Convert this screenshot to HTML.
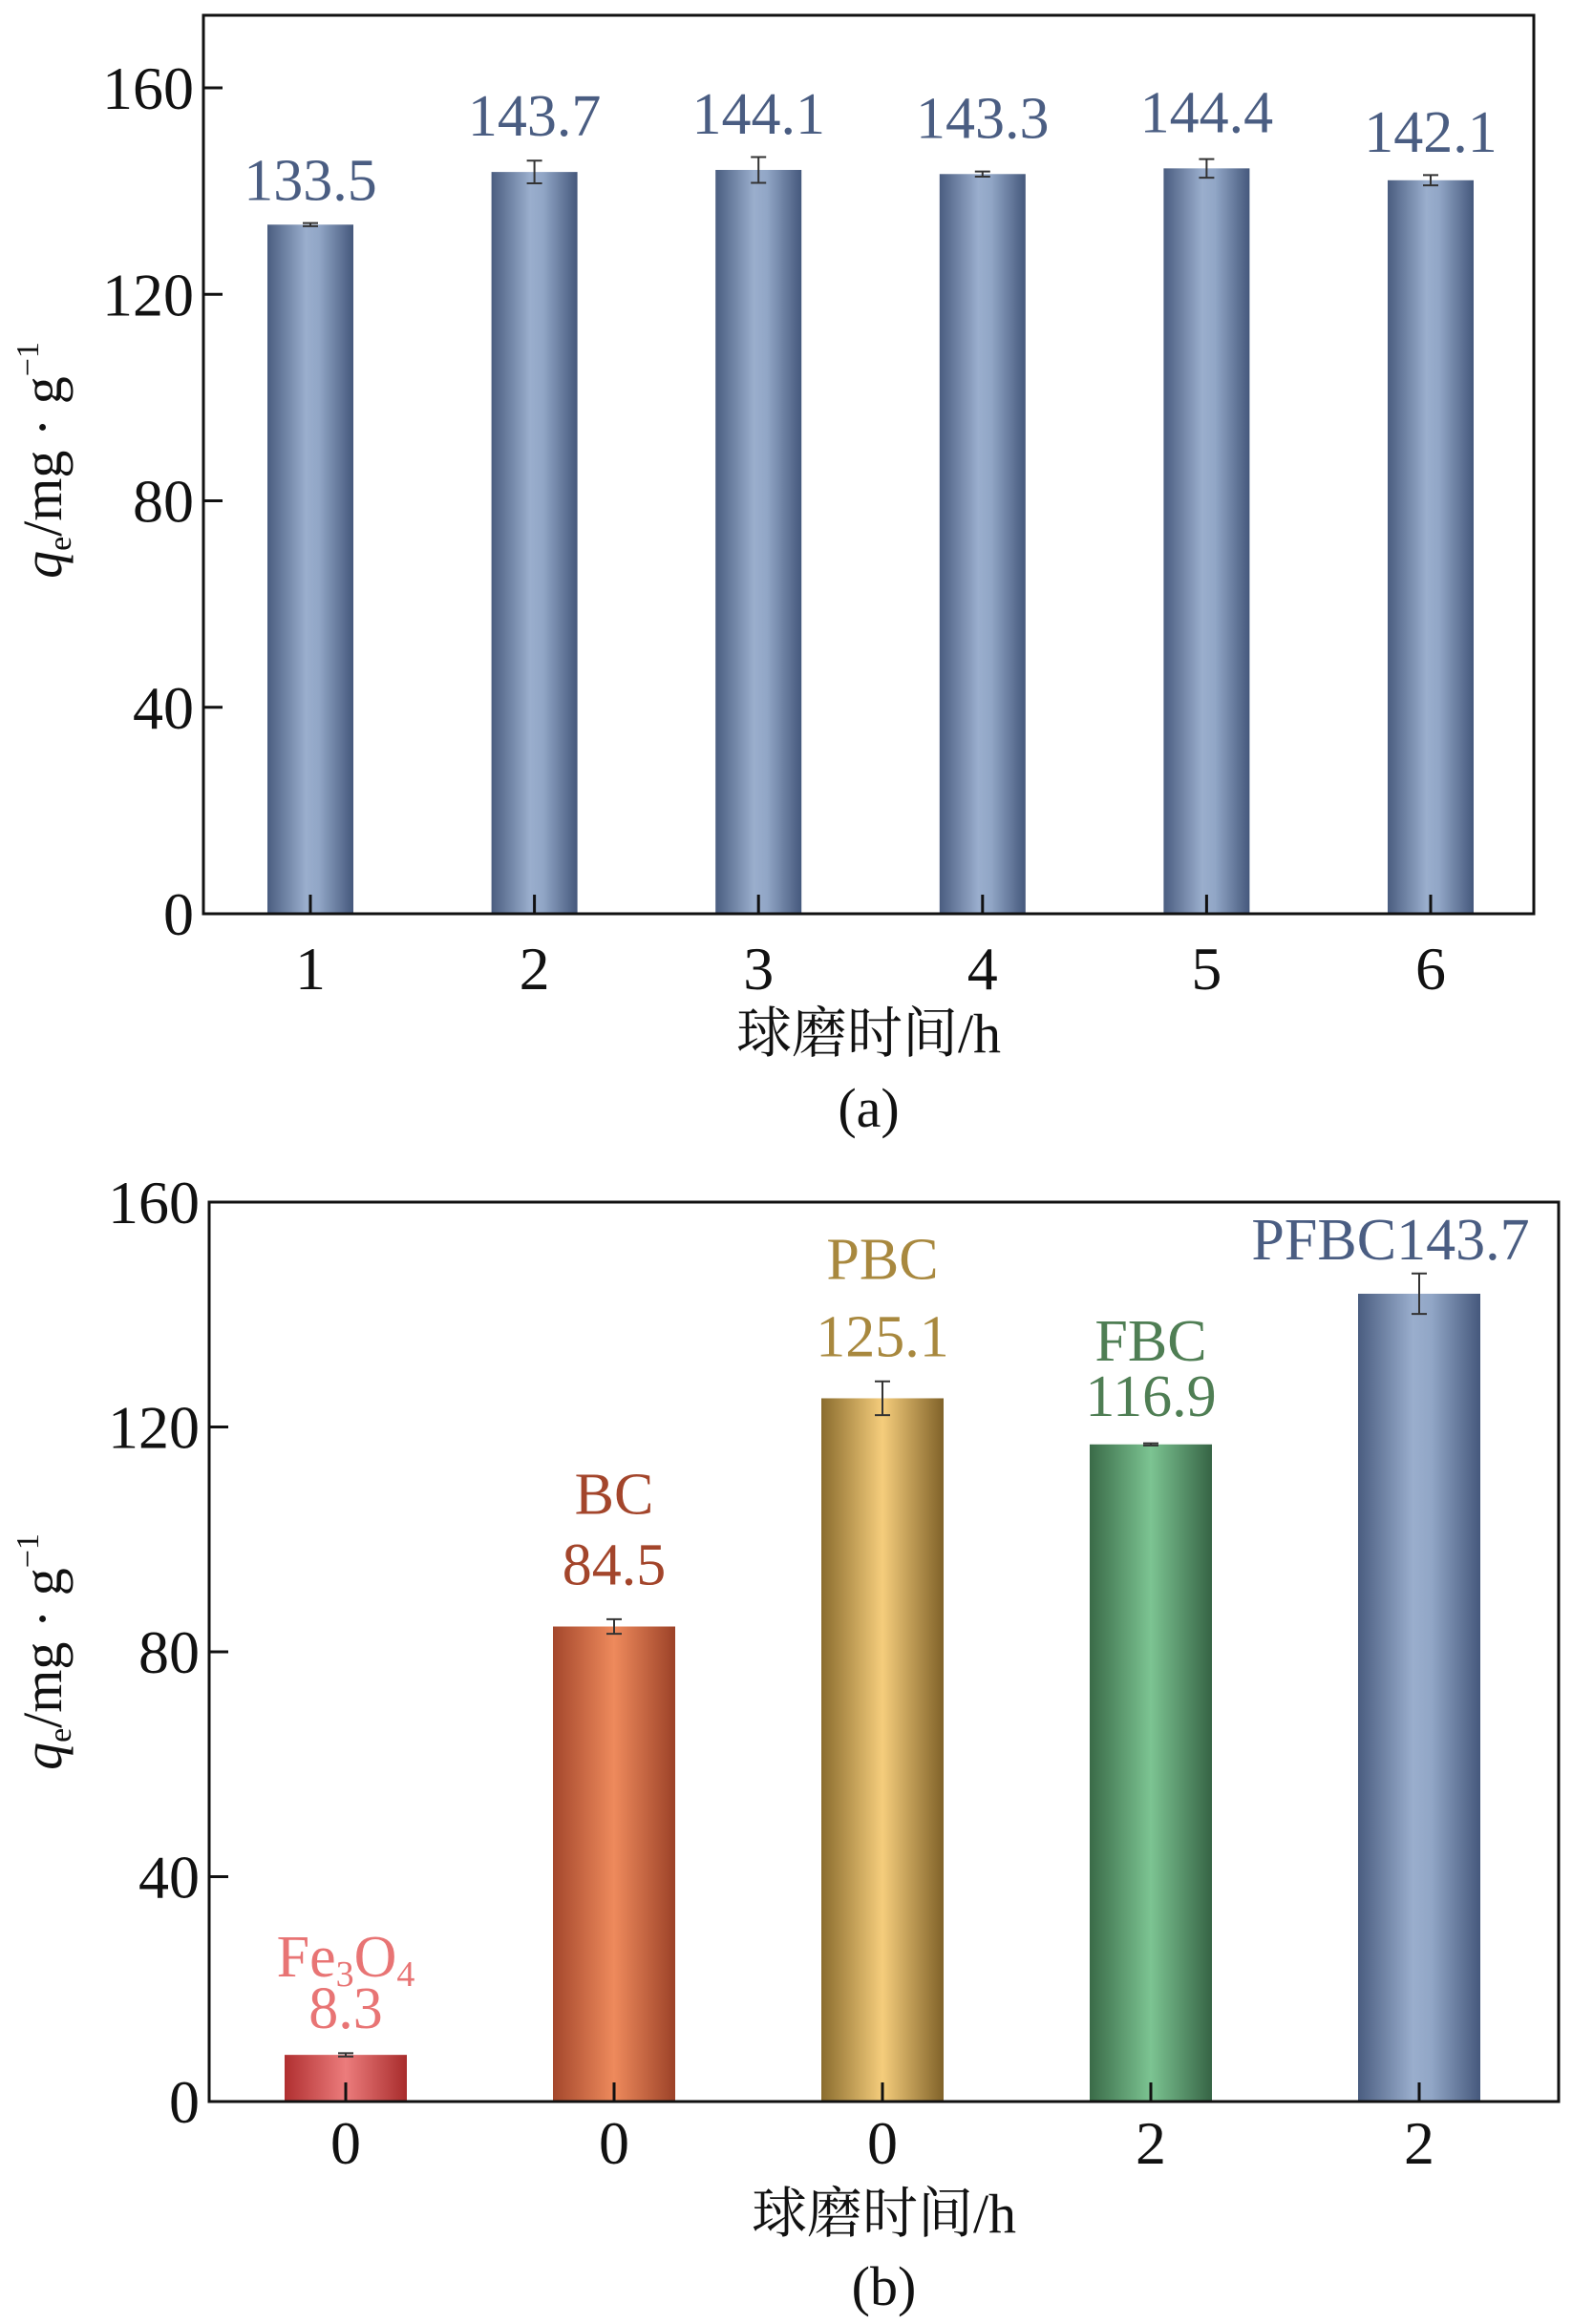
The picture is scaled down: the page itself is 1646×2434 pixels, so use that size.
<!DOCTYPE html>
<html><head><meta charset="utf-8">
<style>
body{margin:0;background:#fff;}
svg{display:block;}
text{font-family:"Liberation Serif","Noto Serif CJK SC","Noto Sans CJK SC",serif;}
</style></head>
<body>
<svg id="chart" width="1646" height="2434" viewBox="0 0 1646 2434" xmlns="http://www.w3.org/2000/svg">
<defs>
<linearGradient id="g-blue" x1="0" x2="1"><stop offset="0" stop-color="#4a5d80"/><stop offset="0.45" stop-color="#9aaecd"/><stop offset="0.6" stop-color="#91a6c6"/><stop offset="1" stop-color="#45587c"/></linearGradient>
<linearGradient id="g-red" x1="0" x2="1"><stop offset="0" stop-color="#b02f30"/><stop offset="0.5" stop-color="#ec7c7c"/><stop offset="1" stop-color="#a82c2c"/></linearGradient>
<linearGradient id="g-orange" x1="0" x2="1"><stop offset="0" stop-color="#a4472c"/><stop offset="0.5" stop-color="#ee8a5c"/><stop offset="1" stop-color="#9c4228"/></linearGradient>
<linearGradient id="g-gold" x1="0" x2="1"><stop offset="0" stop-color="#8a6c2e"/><stop offset="0.5" stop-color="#f5cd7c"/><stop offset="1" stop-color="#806229"/></linearGradient>
<linearGradient id="g-green" x1="0" x2="1"><stop offset="0" stop-color="#3a6b48"/><stop offset="0.5" stop-color="#7cc492"/><stop offset="1" stop-color="#366445"/></linearGradient>
</defs>
<g id="panel-a"></g>
<g id="panel-b"></g>
</svg>
<script>
const aCategories = ["1","2","3","4","5","6"];
const aValues = [133.5, 143.7, 144.1, 143.3, 144.4, 142.1];
const aErrors = [0.3, 2.2, 2.5, 0.5, 1.8, 1.0];
const aLabels = ["133.5","143.7","144.1","143.3","144.4","142.1"];
const bCategories = ["0","0","0","2","2"];
const bValues = [8.3, 84.5, 125.1, 116.9, 143.7];
const bErrors = [0.3, 1.3, 3.0, 0.2, 3.6];
const bLabels = ["8.3","84.5","125.1","116.9","PFBC143.7"];
const bNames = ["Fe3O4","BC","PBC","FBC",""];
const yTicks = [0, 40, 80, 120, 160];

const NS = "http://www.w3.org/2000/svg";
function mk(parent, tag, attrs, txt){
  const e = document.createElementNS(NS, tag);
  for (const k in attrs) e.setAttribute(k, attrs[k]);
  if (txt !== undefined) e.textContent = txt;
  parent.appendChild(e);
  return e;
}

function drawPanel(g, cfg){
  const {left,right,top,bottom,barW,cats,vals,errs,labels,fills,labelColors,names,nameColors,xTitleY,tickY,panelLabel,panelY,titleCy} = cfg;
  const y = v => bottom - v / 160 * (bottom - cfg.y160);
  const n = cats.length;
  const xc = i => cfg.x0 + i * cfg.step;
  for (let i = 0; i < n; i++){
    const r = mk(g, 'rect', {x: xc(i) - barW/2, y: y(vals[i]), width: barW, height: bottom - y(vals[i]), fill: fills[i]});
    
    
    const e = mk(g, 'path', {d: `M${xc(i)-8},${y(vals[i]+errs[i])}H${xc(i)+8}M${xc(i)},${y(vals[i]+errs[i])}V${y(vals[i]-errs[i])}M${xc(i)-8},${y(vals[i]-errs[i])}H${xc(i)+8}`, stroke:'#333', 'stroke-width':2, fill:'none'});
    
    
    const t = mk(g, 'text', {x: cfg.labelX ? cfg.labelX(i, xc(i)) : xc(i), y: y(vals[i]) - cfg.labelOff(i), 'text-anchor': 'middle', 'font-size': 62, fill: labelColors[i]}, labels[i]);
    
    
    if (names && names[i]){
      const nt = mk(g, 'text', {x: xc(i), y: y(vals[i]) - cfg.nameOff(i), 'text-anchor': 'middle', 'font-size': 62, fill: nameColors[i]});
      
      
      if (names[i] === 'Fe3O4'){
        nt.appendChild(document.createTextNode('Fe'));
        mk(nt, 'tspan', {'font-size': 38, dy: 10}, '3');
        mk(nt, 'tspan', {'font-size': 62, dy: -10}, 'O');
        mk(nt, 'tspan', {'font-size': 38, dy: 10}, '4');
      } else nt.textContent = names[i];
    }
    const tk = mk(g, 'line', {x1: xc(i), x2: xc(i), y1: bottom, y2: bottom - 20, stroke:'#111', 'stroke-width':3});
    
    
    const tl = mk(g, 'text', {x: xc(i), y: tickY, 'text-anchor':'middle', 'font-size': 64, fill:'#111'}, cats[i]);
    
    
  }
  for (const v of yTicks){
    const l = mk(g, 'line', {x1: left, x2: left + 20, y1: y(v), y2: y(v), stroke:'#111', 'stroke-width':3});
    
    
    const t = mk(g, 'text', {x: left - 10, y: y(v) + 22, 'text-anchor':'end', 'font-size': 64, fill:'#111'}, String(v));
    
    
  }
  const box = mk(g, 'rect', {x:left, y:top, width:right-left, height:bottom-top, fill:'none', stroke:'#111', 'stroke-width':3});
  
  
  const yt = mk(g, 'text', {transform:`translate(64,${titleCy}) rotate(-90)`, 'text-anchor':'middle', 'font-size': 58, fill:'#111'});
  
  
  mk(yt, 'tspan', {'font-style':'italic'}, 'q');
  mk(yt, 'tspan', {'font-size': 34, dy: 10}, 'e');
  mk(yt, 'tspan', {dy: -10}, '/mg · g');
  mk(yt, 'tspan', {'font-size': 34, dy: -24}, '−1');
  const xt = mk(g, 'text', {x: (left+right)/2, y: xTitleY, 'text-anchor':'middle', 'font-size': 58, fill:'#111'}, '球磨时间/h');
  
  
  const pl = mk(g, 'text', {x: (left+right)/2, y: panelY, 'text-anchor':'middle', 'font-size': 58, fill:'#111'}, panelLabel);
  
  
}

drawPanel(document.getElementById('panel-a'), {
  left:213, right:1606, top:16, bottom:957, y160:92, x0:325, step:234.6, barW:90,
  cats:aCategories, vals:aValues, errs:aErrors, labels:aLabels,
  fills:aValues.map(()=> 'url(#g-blue)'), labelColors:aValues.map(()=> '#4a5d82'),
  labelOff: i => [26, 38, 38, 38, 38, 30][i],
  tickY:1036, xTitleY:1102, panelLabel:'(a)', panelY:1180, titleCy:482
});
drawPanel(document.getElementById('panel-b'), {
  left:219, right:1632, top:1259, bottom:2201, y160:1259, x0:362, step:281, barW:128,
  cats:bCategories, vals:bValues, errs:bErrors, labels:bLabels,
  fills:['url(#g-red)','url(#g-orange)','url(#g-gold)','url(#g-green)','url(#g-blue)'],
  labelColors:['#e87474','#a3452b','#a8883e','#4f7e54','#4a5d82'],
  names:bNames, nameColors:['#e87474','#a3452b','#a8883e','#4f7e54','#4a5d82'],
  labelOff: i => [28, 44, 44, 30, 36][i],
  labelX: (i, x) => i === 4 ? x - 30 : x,
  nameOff: i => [82, 118, 125, 88, 0][i],
  tickY:2266, xTitleY:2338, panelLabel:'(b)', panelY:2414, titleCy:1730
});
</script>
</body></html>
